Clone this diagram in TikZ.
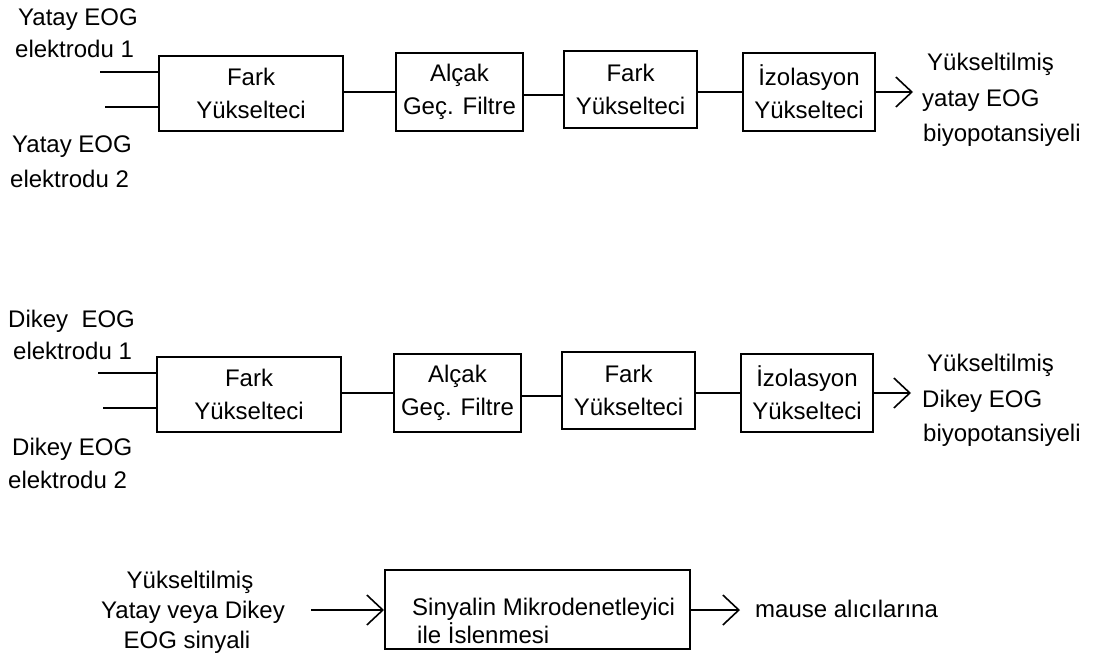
\documentclass[tikz,border=0pt]{standalone}
\usepackage{fontspec}
\setmainfont{Liberation Sans}
\usetikzlibrary{arrows.meta,calc}
\begin{document}
\begin{tikzpicture}[x=1pt,y=-1pt,
  every node/.style={font=\fontsize{24}{33}\selectfont, inner sep=0pt},
  blk/.style={draw, line width=2pt, align=center},
  wire/.style={line width=2pt},
  arr/.style={line width=2pt, -{Straight Barb[length=16pt,width=30pt,line width=1.6pt]}},
  lbl/.style={anchor=base west}]
\useasboundingbox[fill=white] (0,0) rectangle (1101,662);

% ---------- Row 1 ----------
\node[blk, minimum width=184pt, minimum height=75pt] (fk1) at (251,93.5) {Fark\\Yükselteci};
\node[blk, minimum width=127pt, minimum height=78pt] (al1) at (459.5,92) {Alçak\\Geç. Filtre};
\node[blk, minimum width=133pt, minimum height=77pt] (fb1) at (630.5,89.5) {Fark\\Yükselteci};
\node[blk, minimum width=132pt, minimum height=78pt] (iz1) at (809,92) {İzolasyon\\Yükselteci};

\coordinate (i1a) at (100,72);
\coordinate (i1b) at (105,107);
\draw[wire] (i1a) -- (i1a -| fk1.west);
\draw[wire] (i1b) -- (i1b -| fk1.west);
\draw[wire] (al1.west -| fk1.east) -- (al1.west);
\coordinate (al1o) at ($(al1.east)+(0,3)$);
\draw[wire] (al1o) -- (al1o -| fb1.west);
\draw[wire] (iz1.west -| fb1.east) -- (iz1.west);
\coordinate (t1) at (913,92);
\draw[arr] (iz1.east) -- (t1);

\node[lbl] (l1a) at (18,25) {Yatay EOG};
\node[lbl] (l1b) at (15,57) {elektrodu 1};
\node[lbl] (l1c) at (12,152) {Yatay EOG};
\node[lbl] (l1d) at (10,187) {elektrodu 2};
\node[lbl] (r1a) at (927,70) {Yükseltilmiş};
\node[lbl] (r1b) at (922,106) {yatay EOG};
\node[lbl] (r1c) at (923,141) {biyopotansiyeli};

% ---------- Row 2 ----------
\node[blk, minimum width=184pt, minimum height=75pt] (fk2) at (249,394.5) {Fark\\Yükselteci};
\node[blk, minimum width=127pt, minimum height=78pt] (al2) at (457.5,393) {Alçak\\Geç. Filtre};
\node[blk, minimum width=133pt, minimum height=77pt] (fb2) at (628.5,390.5) {Fark\\Yükselteci};
\node[blk, minimum width=132pt, minimum height=78pt] (iz2) at (807,393) {İzolasyon\\Yükselteci};

\coordinate (i2a) at (98,373);
\coordinate (i2b) at (103,408);
\draw[wire] (i2a) -- (i2a -| fk2.west);
\draw[wire] (i2b) -- (i2b -| fk2.west);
\draw[wire] (al2.west -| fk2.east) -- (al2.west);
\coordinate (al2o) at ($(al2.east)+(0,3)$);
\draw[wire] (al2o) -- (al2o -| fb2.west);
\draw[wire] (iz2.west -| fb2.east) -- (iz2.west);
\coordinate (t2) at (911,393);
\draw[arr] (iz2.east) -- (t2);

\node[lbl] (l2a) at (8,327) {Dikey~~EOG};
\node[lbl] (l2b) at (13,359) {elektrodu 1};
\node[lbl] (l2c) at (12,455) {Dikey EOG};
\node[lbl] (l2d) at (8,488) {elektrodu 2};
\node[lbl] (r2a) at (927,371) {Yükseltilmiş};
\node[lbl] (r2b) at (922,407) {Dikey EOG};
\node[lbl] (r2c) at (923,441) {biyopotansiyeli};

% ---------- Row 3 ----------
\node[draw, line width=2pt, minimum width=305pt, minimum height=79pt] (mc) at (537.5,609.5) {};
\node[lbl] (mct1) at (412,615) {Sinyalin Mikrodenetleyici};
\node[lbl] (mct2) at (417,643) {ile İslenmesi};

\node[anchor=base] (s1) at (190,588) {Yükseltilmiş};
\node[anchor=base] (s2) at (193,618) {Yatay veya Dikey};
\node[anchor=base] (s3) at (187,648) {EOG sinyali};

\coordinate (src) at (311,610);
\draw[arr] (src) -- (src -| mc.west);
\coordinate (out3) at (740,610);
\draw[arr] (out3 -| mc.east) -- (out3);
\node[lbl] (ms) at (755,617) {mause alıcılarına};
\end{tikzpicture}
\end{document}
